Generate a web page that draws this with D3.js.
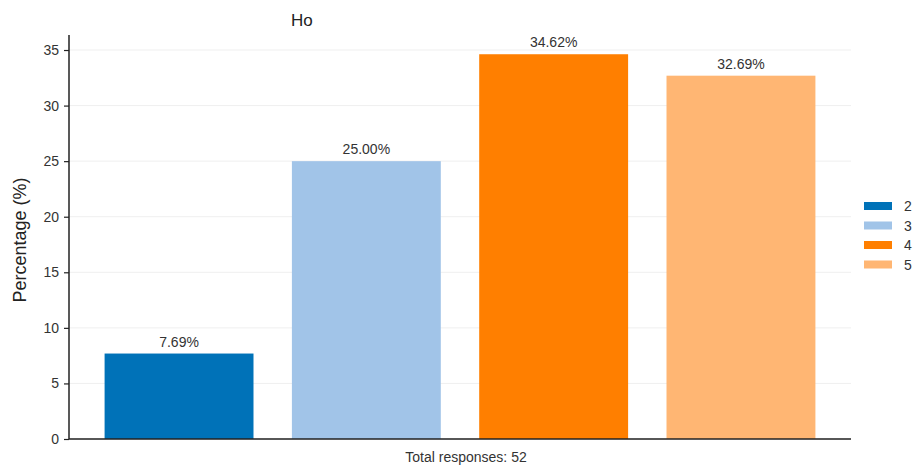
<!DOCTYPE html>
<html><head><meta charset="utf-8">
<script src="https://cdn.jsdelivr.net/npm/d3@7"></script>
<style>body{margin:0;background:#fff;} svg{display:block;font-family:"Liberation Sans",Arial,sans-serif;}</style>
</head><body><svg id="c" width="915" height="470"></svg>
<script>
const categories = ["2", "3", "4", "5"];
const values = [7.69, 25.00, 34.62, 32.69];
const colors = ["#0072b8", "#a1c4e8", "#ff7f00", "#ffb673"];
const yTicks = [0, 5, 10, 15, 20, 25, 30, 35];
const title = "Ho";
const yLabel = "Percentage (%)";
const footer = "Total responses: 52";

(function () {
const svg = d3.select("#c");
const mL = 69, mR = 851, mT = 35, mB = 439;
const x = d3.scaleBand().domain(categories).range([mL, mR]).paddingInner(0.205).paddingOuter(0.19);
const y = d3.scaleLinear().domain([0, d3.max(values) * 1.05]).range([mB, mT]);

// gridlines
svg.append("g").selectAll("line").data(yTicks).join("line")
  .attr("x1", mL).attr("x2", mR)
  .attr("y1", d => y(d)).attr("y2", d => y(d))
  .attr("stroke", "#efefef").attr("stroke-width", 1);

// bars
svg.append("g").selectAll("rect").data(values).join("rect")
  .attr("x", (d, i) => x(categories[i]))
  .attr("y", d => y(d))
  .attr("width", x.bandwidth())
  .attr("height", d => mB - y(d))
  .attr("fill", (d, i) => colors[i]);

// value labels
svg.append("g").selectAll("text").data(values).join("text")
  .attr("x", (d, i) => x(categories[i]) + x.bandwidth() / 2)
  .attr("y", d => y(d) - 7)
  .attr("text-anchor", "middle")
  .attr("font-size", 14).attr("fill", "#333")
  .text(d => d.toFixed(2) + "%");

// y axis
const yAxis = svg.append("g").attr("transform", `translate(${mL},0)`)
  .call(d3.axisLeft(y).tickValues(yTicks).tickSize(5).tickPadding(5).tickFormat(d3.format("d")));
yAxis.select(".domain").attr("stroke", "#222").attr("stroke-width", 1.5).attr("d", `M0,${mT}V${mB}`);
yAxis.selectAll(".tick line").attr("stroke", "#222").attr("stroke-width", 1.2);
yAxis.selectAll(".tick text").attr("font-size", 14).attr("fill", "#333").attr("font-family", "Liberation Sans, Arial, sans-serif");

// x axis line
svg.append("line").attr("x1", mL).attr("x2", mR).attr("y1", mB).attr("y2", mB)
  .attr("stroke", "#222").attr("stroke-width", 1.5);

// title
svg.append("text").attr("x", 291).attr("y", 26).attr("font-size", 17).attr("fill", "#222").text(title);

// y label
svg.append("text").attr("transform", `translate(26,240) rotate(-90)`)
  .attr("text-anchor", "middle").attr("font-size", 18).attr("fill", "#222").text(yLabel);

// footer
svg.append("text").attr("x", (mL + mR) / 2 + 6).attr("y", 462).attr("text-anchor", "middle")
  .attr("font-size", 14).attr("fill", "#333").text(footer);

// legend
const lg = svg.append("g").attr("transform", "translate(864,202)");
const item = lg.selectAll("g").data(categories).join("g").attr("transform", (d, i) => `translate(0,${i * 19.5})`);
item.append("rect").attr("width", 28).attr("height", 8).attr("fill", (d, i) => colors[i]);
item.append("text").attr("x", 40).attr("y", 9).attr("font-size", 14).attr("fill", "#333").text(d => d);
})();
</script></body></html>
